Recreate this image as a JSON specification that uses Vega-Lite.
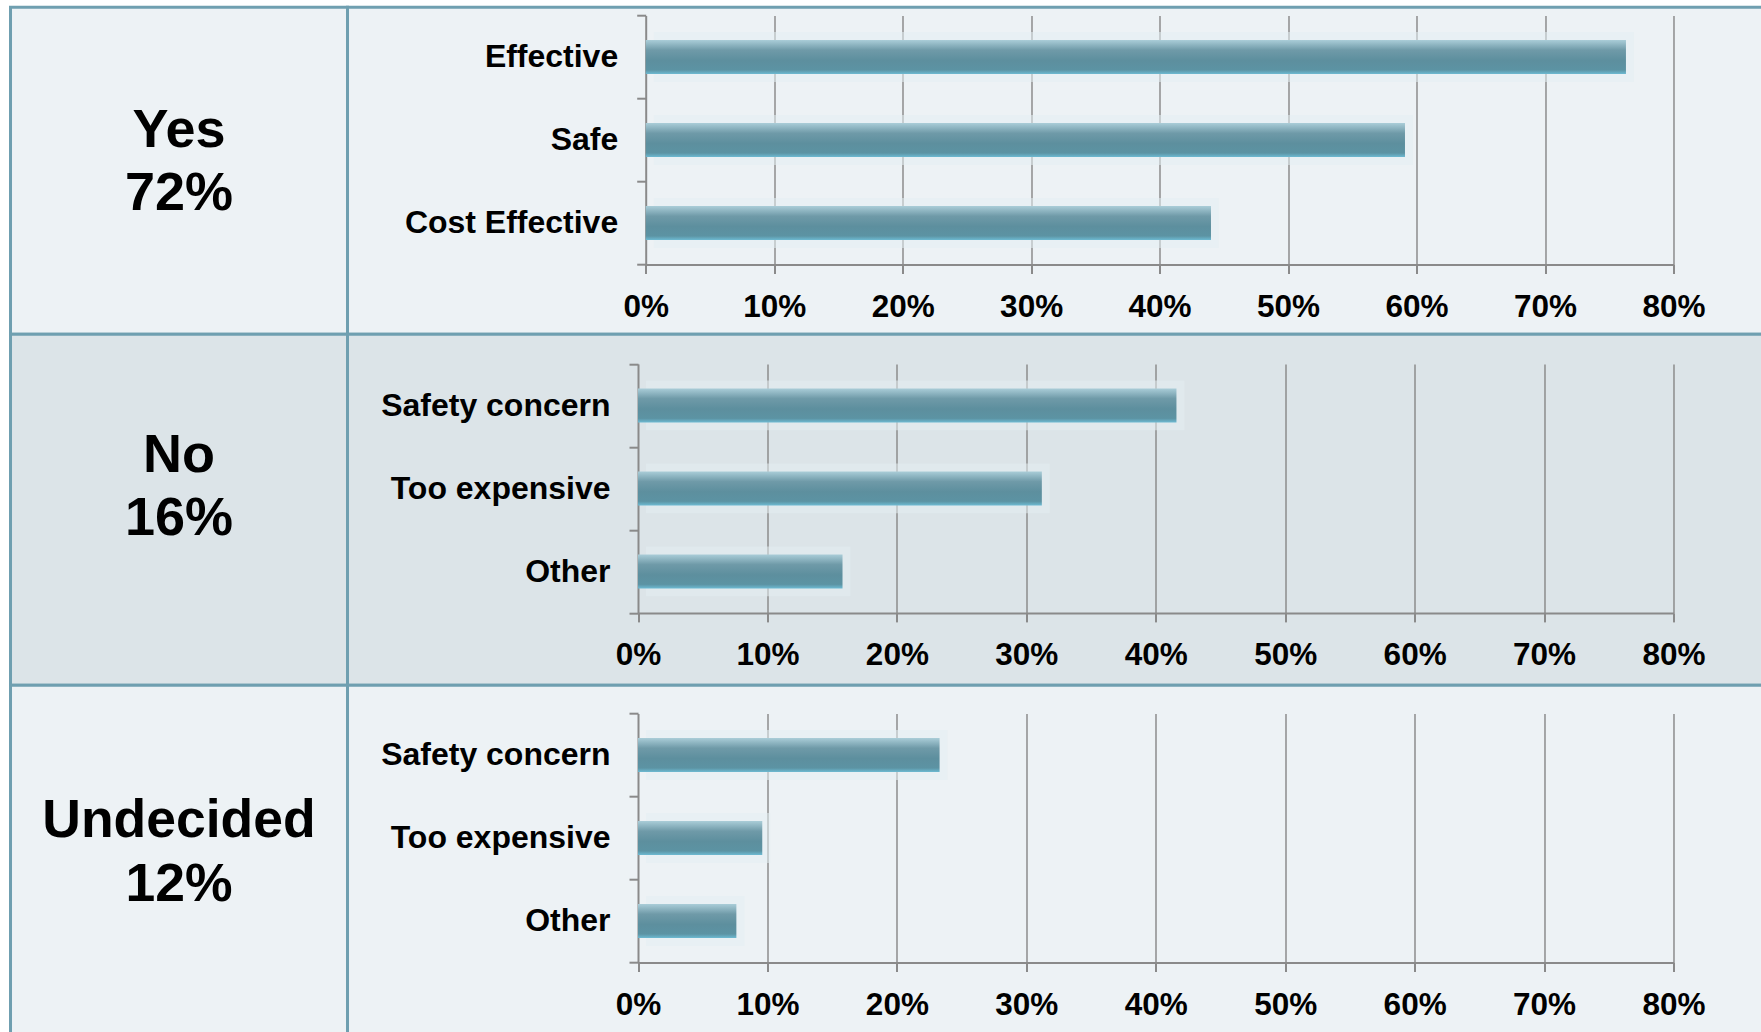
{
  "$schema": "https://vega.github.io/schema/vega-lite/v6.json",
  "background": "#ffffff",
  "padding": {"left": 8.5, "top": -10.8, "right": 0, "bottom": 0},
  "bounds": "flush",
  "spacing": 0,
  "columns": 2,
  "config": {
    "font": "Liberation Sans",
    "axis": {
      "domainColor": "#8A8A8A", "domainWidth": 2,
      "tickColor": "#8A8A8A", "tickWidth": 2, "tickSize": 9,
      "gridColor": "#8C8C8C", "gridWidth": 1.5,
      "labelFont": "Liberation Sans", "labelFontSize": 31.5, "labelFontWeight": "bold", "labelColor": "#000000"
    },
    "view": {"stroke": "#6F9FB0", "strokeWidth": 3}
  },
  "datasets": {
    "yes": [
      {"reason": "Effective", "pct": 76.3},
      {"reason": "Safe", "pct": 59.1},
      {"reason": "Cost Effective", "pct": 44.0}
    ],
    "no": [
      {"reason": "Safety concern", "pct": 41.6},
      {"reason": "Too expensive", "pct": 31.2},
      {"reason": "Other", "pct": 15.8}
    ],
    "undecided": [
      {"reason": "Safety concern", "pct": 23.3},
      {"reason": "Too expensive", "pct": 9.6},
      {"reason": "Other", "pct": 7.6}
    ]
  },
  "concat": [
    {
      "width": 337, "height": 327,
      "view": {"fill": "#EDF2F5", "stroke": "#6F9FB0", "strokeWidth": 3},
      "data": {"values": [{"label": "Yes\n72%"}]},
      "mark": {"type": "text", "font": "Liberation Sans", "fontWeight": "bold", "fontSize": 54, "lineBreak": "\n", "lineHeight": 63.5, "baseline": "middle", "align": "center", "dy": -39.8, "color": "#000000"},
      "encoding": {"text": {"field": "label"}}
    },
    {
      "width": 1420, "height": 327,
      "view": {"fill": "#EDF2F5", "stroke": "#6F9FB0", "strokeWidth": 3},
      "data": {"name": "yes"},
      "encoding": {
        "y": {"field": "reason", "type": "nominal", "sort": null,
          "scale": {"range": [8.3, 257.3], "paddingInner": 0, "paddingOuter": 0},
          "axis": {"title": null, "orient": "left", "offset": -298.2, "tickBand": "extent", "labelPadding": 19, "labelLimit": 600, "labelFontSize": 32}}
      },
      "layer": [
        {
          "mark": {"type": "bar", "height": {"band": 0.6}, "color": "#E3EEF2", "opacity": 0.55, "xOffset": 8},
          "encoding": {
            "x": {"field": "pct", "type": "quantitative",
              "scale": {"domain": [0, 80], "range": [298.2, 1326], "nice": false, "zero": true},
              "axis": {"orient": "top", "grid": true, "domain": false, "ticks": false, "labels": false, "title": null, "minExtent": 0, "maxExtent": 0, "values": [10, 20, 30, 40, 50, 60, 70, 80]}}
          }
        },
        {
          "mark": {"type": "bar", "height": {"band": 0.41},
            "color": {"gradient": "linear", "x1": 0, "y1": 0, "x2": 0, "y2": 1,
              "stops": [
                {"offset": 0, "color": "#AACDD8"},
                {"offset": 0.3, "color": "#6F9AA8"},
                {"offset": 0.6, "color": "#5D8F9E"},
                {"offset": 0.88, "color": "#5C93A3"},
                {"offset": 1, "color": "#6DBAD2"}
              ]}},
          "encoding": {
            "x": {"field": "pct", "type": "quantitative",
              "scale": {"domain": [0, 80], "range": [298.2, 1326], "nice": false, "zero": true},
              "axis": {"orient": "bottom", "grid": false, "offset": -69.7, "title": null, "values": [0, 10, 20, 30, 40, 50, 60, 70, 80], "labelExpr": "datum.value + '%'", "labelPadding": 18, "labelFlush": false, "labelOverlap": false}}
          }
        }
      ],
      "resolve": {"axis": {"x": "independent"}}
    },
    {
      "width": 337, "height": 351,
      "view": {"fill": "#DCE4E8", "stroke": "#6F9FB0", "strokeWidth": 3},
      "data": {"values": [{"label": "No\n16%"}]},
      "mark": {"type": "text", "font": "Liberation Sans", "fontWeight": "bold", "fontSize": 54, "lineBreak": "\n", "lineHeight": 63.5, "baseline": "middle", "align": "center", "dy": -53.8, "color": "#000000"},
      "encoding": {"text": {"field": "label"}}
    },
    {
      "width": 1420, "height": 351,
      "view": {"fill": "#DCE4E8", "stroke": "#6F9FB0", "strokeWidth": 3},
      "data": {"name": "no"},
      "encoding": {
        "y": {"field": "reason", "type": "nominal", "sort": null,
          "scale": {"range": [29.7, 278.7], "paddingInner": 0, "paddingOuter": 0},
          "axis": {"title": null, "orient": "left", "offset": -290.5, "tickBand": "extent", "labelPadding": 19, "labelLimit": 600, "labelFontSize": 32}}
      },
      "layer": [
        {
          "mark": {"type": "bar", "height": {"band": 0.6}, "color": "#E3ECF0", "opacity": 0.55, "xOffset": 8},
          "encoding": {
            "x": {"field": "pct", "type": "quantitative",
              "scale": {"domain": [0, 80], "range": [290.5, 1326], "nice": false, "zero": true},
              "axis": {"orient": "top", "grid": true, "domain": false, "ticks": false, "labels": false, "title": null, "minExtent": 0, "maxExtent": 0, "values": [10, 20, 30, 40, 50, 60, 70, 80]}}
          }
        },
        {
          "mark": {"type": "bar", "height": {"band": 0.41},
            "color": {"gradient": "linear", "x1": 0, "y1": 0, "x2": 0, "y2": 1,
              "stops": [
                {"offset": 0, "color": "#AACDD8"},
                {"offset": 0.3, "color": "#6F9AA8"},
                {"offset": 0.6, "color": "#5D8F9E"},
                {"offset": 0.88, "color": "#5C93A3"},
                {"offset": 1, "color": "#6DBAD2"}
              ]}},
          "encoding": {
            "x": {"field": "pct", "type": "quantitative",
              "scale": {"domain": [0, 80], "range": [290.5, 1326], "nice": false, "zero": true},
              "axis": {"orient": "bottom", "grid": false, "offset": -72.3, "title": null, "values": [0, 10, 20, 30, 40, 50, 60, 70, 80], "labelExpr": "datum.value + '%'", "labelPadding": 18, "labelFlush": false, "labelOverlap": false}}
          }
        }
      ],
      "resolve": {"axis": {"x": "independent"}}
    },
    {
      "width": 337, "height": 352,
      "view": {"fill": "#EDF2F5", "stroke": "#6F9FB0", "strokeWidth": 3},
      "data": {"values": [{"label": "Undecided\n12%"}]},
      "mark": {"type": "text", "font": "Liberation Sans", "fontWeight": "bold", "fontSize": 53.5, "lineBreak": "\n", "lineHeight": 63.5, "baseline": "middle", "align": "center", "dy": -39.7, "color": "#000000"},
      "encoding": {"text": {"field": "label"}}
    },
    {
      "width": 1420, "height": 352,
      "view": {"fill": "#EDF2F5", "stroke": "#6F9FB0", "strokeWidth": 3},
      "data": {"name": "undecided"},
      "encoding": {
        "y": {"field": "reason", "type": "nominal", "sort": null,
          "scale": {"range": [28.3, 277.3], "paddingInner": 0, "paddingOuter": 0},
          "axis": {"title": null, "orient": "left", "offset": -290.5, "tickBand": "extent", "labelPadding": 19, "labelLimit": 600, "labelFontSize": 32}}
      },
      "layer": [
        {
          "mark": {"type": "bar", "height": {"band": 0.6}, "color": "#E3EEF2", "opacity": 0.55, "xOffset": 8},
          "encoding": {
            "x": {"field": "pct", "type": "quantitative",
              "scale": {"domain": [0, 80], "range": [290.5, 1326], "nice": false, "zero": true},
              "axis": {"orient": "top", "grid": true, "domain": false, "ticks": false, "labels": false, "title": null, "minExtent": 0, "maxExtent": 0, "values": [10, 20, 30, 40, 50, 60, 70, 80]}}
          }
        },
        {
          "mark": {"type": "bar", "height": {"band": 0.41},
            "color": {"gradient": "linear", "x1": 0, "y1": 0, "x2": 0, "y2": 1,
              "stops": [
                {"offset": 0, "color": "#AACDD8"},
                {"offset": 0.3, "color": "#6F9AA8"},
                {"offset": 0.6, "color": "#5D8F9E"},
                {"offset": 0.88, "color": "#5C93A3"},
                {"offset": 1, "color": "#6DBAD2"}
              ]}},
          "encoding": {
            "x": {"field": "pct", "type": "quantitative",
              "scale": {"domain": [0, 80], "range": [290.5, 1326], "nice": false, "zero": true},
              "axis": {"orient": "bottom", "grid": false, "offset": -74.7, "title": null, "values": [0, 10, 20, 30, 40, 50, 60, 70, 80], "labelExpr": "datum.value + '%'", "labelPadding": 18, "labelFlush": false, "labelOverlap": false}}
          }
        }
      ],
      "resolve": {"axis": {"x": "independent"}}
    }
  ]
}
